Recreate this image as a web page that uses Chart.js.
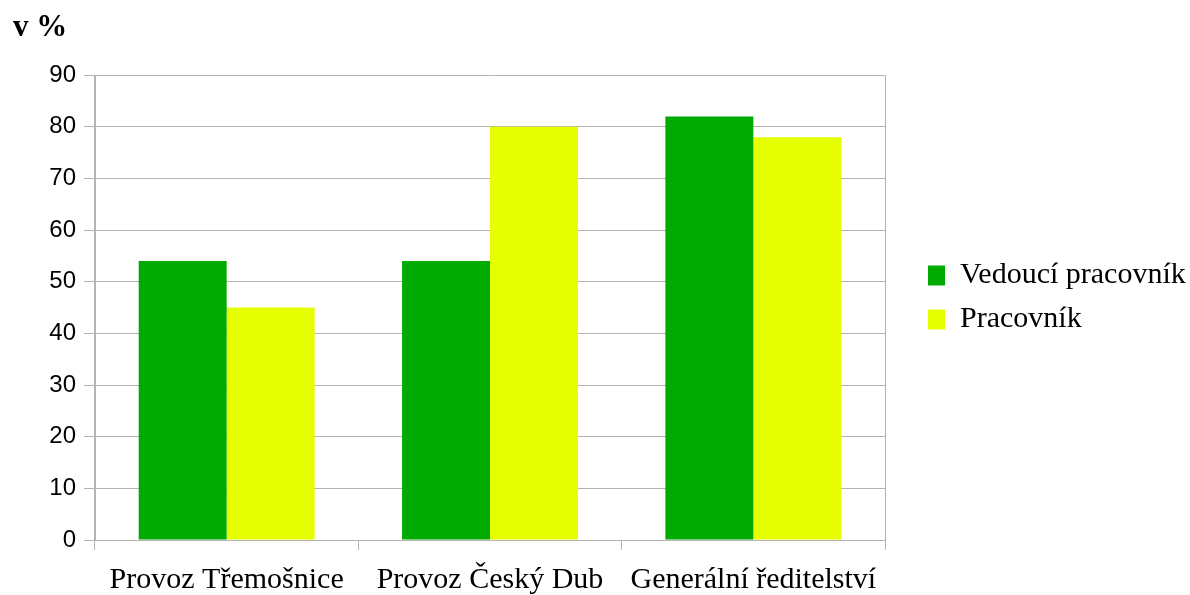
<!DOCTYPE html>
<html>
<head>
<meta charset="utf-8">
<script src="https://cdn.jsdelivr.net/npm/chart.js@4/dist/chart.umd.min.js"></script>
<style>
  html, body { margin: 0; padding: 0; background: #ffffff; }
  #wrap { width: 1190px; height: 595px; }
</style>
</head>
<body>
<div id="wrap"><canvas id="c" width="1190" height="595"></canvas></div>
<script>
// Categories, series and axis ticks
const categories = ['Provoz Třemošnice', 'Provoz Český Dub', 'Generální ředitelství'];
const seriesNames = ['Vedoucí pracovník', 'Pracovník'];
const vedouciValues = [54, 54, 82];
const pracovnikValues = [45, 80, 78];
const yTicks = [0, 10, 20, 30, 40, 50, 60, 70, 80, 90];

const GRID = '#b3b3b3';
const serif = 'Liberation Serif, "Times New Roman", serif';
const sans = 'Liberation Sans, Arial, sans-serif';

// Leaves a wider gap between the plot and the legend column
const legendGap = {
  id: 'legendGap',
  afterLayout(chart, args, opts) {
    const lg = chart.legend;
    if (lg) { lg.left += opts.shift; lg.right += opts.shift; }
  }
};

new Chart(document.getElementById('c'), {
  type: 'bar',
  plugins: [legendGap],
  data: {
    labels: categories,
    datasets: [
      { label: seriesNames[0], data: vedouciValues, backgroundColor: '#00aa00',
        categoryPercentage: 0.668, barPercentage: 1.0 },
      { label: seriesNames[1], data: pracovnikValues, backgroundColor: '#e6ff00',
        categoryPercentage: 0.668, barPercentage: 1.0 }
    ]
  },
  options: {
    responsive: false,
    animation: false,
    devicePixelRatio: 1,
    layout: { padding: { left: 13, right: 25, top: 0, bottom: 0 } },
    plugins: {
      tooltip: { enabled: false },
      legendGap: { shift: 29 },
      title: {
        display: true,
        text: 'v %',
        align: 'start',
        color: '#000',
        font: { family: serif, size: 31, weight: 'bold' },
        padding: { top: 9, bottom: 29 }
      },
      legend: {
        position: 'right',
        align: 'center',
        maxWidth: 280,
        labels: {
          color: '#000',
          font: { family: serif, size: 30 },
          boxWidth: 17,
          boxHeight: 20,
          padding: 14
        }
      }
    },
    scales: {
      x: {
        offset: true,
        afterFit: s => { s.height = 55; },
        grid: {
          offset: true,
          drawTicks: true,
          tickLength: 10,
          tickColor: GRID,
          // only the outer boundaries run across the plot; inner ones are ticks
          color: ctx => (ctx.type === 'scale' || ctx.index === 0) ? GRID : 'rgba(0,0,0,0)',
          lineWidth: 1
        },
        border: { display: true, color: GRID },
        ticks: {
          color: '#000',
          font: { family: serif, size: 30 },
          padding: 12,
          maxRotation: 0,
          autoSkip: false
        }
      },
      y: {
        min: 0,
        max: 90,
        afterBuildTicks: s => { s.ticks = yTicks.map(v => ({ value: v })); },
        afterFit: s => { s.width = 82; },
        grid: { color: GRID, tickColor: GRID, tickLength: 11, lineWidth: 1 },
        border: { display: true, color: GRID },
        ticks: {
          color: '#000',
          font: { family: sans, size: 24 },
          padding: 8
        }
      }
    }
  }
});
</script>
</body>
</html>
